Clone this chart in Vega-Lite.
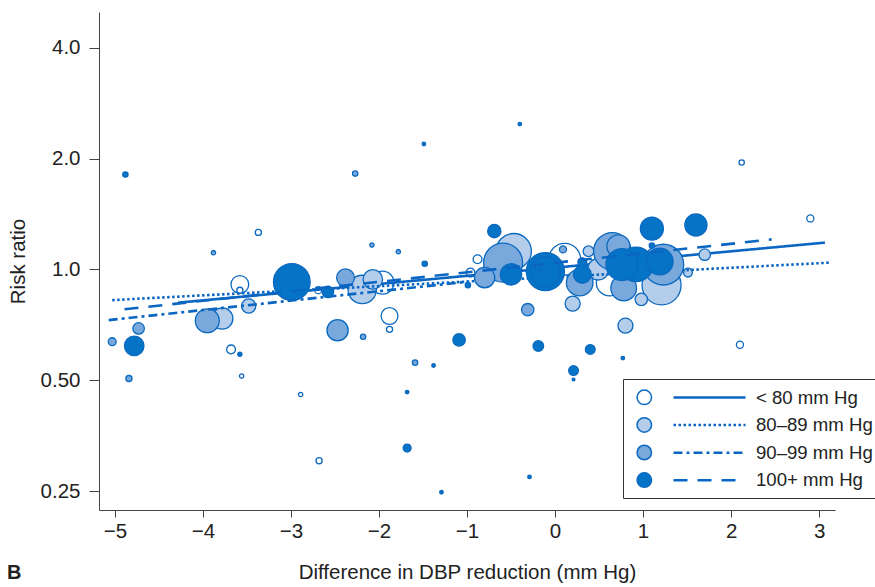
{
  "$schema": "https://vega.github.io/schema/vega-lite/v6.json",
  "width": 736,
  "height": 498,
  "autosize": {"type": "none"},
  "padding": {"left": 99, "top": 12, "right": 40, "bottom": 77},
  "background": "#ffffff",
  "config": {
    "view": {"stroke": null},
    "font": "Liberation Sans",
    "axis": {"grid": false, "domainColor": "#444", "tickColor": "#444", "labelColor": "#222", "titleColor": "#222", "labelFont": "Liberation Sans", "titleFont": "Liberation Sans", "titleFontWeight": "normal", "labelFontSize": 20.5, "titleFontSize": 20.5}
  },
  "title": {"text": "B", "orient": "bottom", "anchor": "start", "frame": "group", "dx": -92, "offset": -20, "fontSize": 20, "fontWeight": "bold", "color": "#222", "font": "Liberation Sans"},
  "datasets": {
    "studies": [
      {"dbp": -3.37, "rr": 1.26, "weight": 12, "group": "< 80 mm Hg"},
      {"dbp": -3.58, "rr": 0.91, "weight": 100, "group": "< 80 mm Hg"},
      {"dbp": -3.58, "rr": 0.877, "weight": 12, "group": "< 80 mm Hg"},
      {"dbp": -3.68, "rr": 0.606, "weight": 25, "group": "< 80 mm Hg"},
      {"dbp": -3.56, "rr": 0.513, "weight": 6, "group": "< 80 mm Hg"},
      {"dbp": -2.89, "rr": 0.457, "weight": 6, "group": "< 80 mm Hg"},
      {"dbp": -2.68, "rr": 0.302, "weight": 12, "group": "< 80 mm Hg"},
      {"dbp": -1.96, "rr": 0.92, "weight": 169, "group": "< 80 mm Hg"},
      {"dbp": -1.88, "rr": 0.747, "weight": 90, "group": "< 80 mm Hg"},
      {"dbp": -1.88, "rr": 0.687, "weight": 12, "group": "< 80 mm Hg"},
      {"dbp": -2.69, "rr": 0.878, "weight": 16, "group": "< 80 mm Hg"},
      {"dbp": -0.96, "rr": 0.98, "weight": 25, "group": "< 80 mm Hg"},
      {"dbp": -0.88, "rr": 1.065, "weight": 25, "group": "< 80 mm Hg"},
      {"dbp": 0.11, "rr": 1.065, "weight": 324, "group": "< 80 mm Hg"},
      {"dbp": 0.62, "rr": 0.92, "weight": 225, "group": "< 80 mm Hg"},
      {"dbp": 2.9, "rr": 1.375, "weight": 16, "group": "< 80 mm Hg"},
      {"dbp": 2.12, "rr": 1.95, "weight": 9, "group": "< 80 mm Hg"},
      {"dbp": 2.1, "rr": 0.624, "weight": 16, "group": "< 80 mm Hg"},
      {"dbp": -3.48, "rr": 0.795, "weight": 64, "group": "80–89 mm Hg"},
      {"dbp": -3.78, "rr": 0.735, "weight": 144, "group": "80–89 mm Hg"},
      {"dbp": -2.07, "rr": 0.939, "weight": 121, "group": "80–89 mm Hg"},
      {"dbp": -2.19, "rr": 0.882, "weight": 256, "group": "80–89 mm Hg"},
      {"dbp": -0.47, "rr": 1.12, "weight": 400, "group": "80–89 mm Hg"},
      {"dbp": 0.2, "rr": 0.807, "weight": 72, "group": "80–89 mm Hg"},
      {"dbp": 0.8, "rr": 0.703, "weight": 72, "group": "80–89 mm Hg"},
      {"dbp": 1.7, "rr": 1.096, "weight": 42, "group": "80–89 mm Hg"},
      {"dbp": 0.38, "rr": 1.12, "weight": 36, "group": "80–89 mm Hg"},
      {"dbp": 0.49, "rr": 1.0, "weight": 144, "group": "80–89 mm Hg"},
      {"dbp": 1.21, "rr": 0.905, "weight": 484, "group": "80–89 mm Hg"},
      {"dbp": 0.98, "rr": 0.829, "weight": 49, "group": "80–89 mm Hg"},
      {"dbp": 1.51, "rr": 0.98, "weight": 25, "group": "80–89 mm Hg"},
      {"dbp": -3.88, "rr": 1.11, "weight": 6, "group": "90–99 mm Hg"},
      {"dbp": -2.27, "rr": 1.82, "weight": 9, "group": "90–99 mm Hg"},
      {"dbp": -2.08, "rr": 1.164, "weight": 6, "group": "90–99 mm Hg"},
      {"dbp": -1.78, "rr": 1.117, "weight": 6, "group": "90–99 mm Hg"},
      {"dbp": -3.95, "rr": 0.725, "weight": 182, "group": "90–99 mm Hg"},
      {"dbp": -4.73, "rr": 0.691, "weight": 42, "group": "90–99 mm Hg"},
      {"dbp": -5.03, "rr": 0.636, "weight": 20, "group": "90–99 mm Hg"},
      {"dbp": -4.84, "rr": 0.505, "weight": 12, "group": "90–99 mm Hg"},
      {"dbp": -2.38, "rr": 0.949, "weight": 100, "group": "90–99 mm Hg"},
      {"dbp": -2.47, "rr": 0.683, "weight": 144, "group": "90–99 mm Hg"},
      {"dbp": -2.18, "rr": 0.656, "weight": 9, "group": "90–99 mm Hg"},
      {"dbp": -1.59, "rr": 0.558, "weight": 9, "group": "90–99 mm Hg"},
      {"dbp": -0.59, "rr": 1.043, "weight": 484, "group": "90–99 mm Hg"},
      {"dbp": -0.8, "rr": 0.95, "weight": 132, "group": "90–99 mm Hg"},
      {"dbp": -0.31, "rr": 0.777, "weight": 49, "group": "90–99 mm Hg"},
      {"dbp": 0.28, "rr": 0.92, "weight": 225, "group": "90–99 mm Hg"},
      {"dbp": 0.09, "rr": 1.133, "weight": 16, "group": "90–99 mm Hg"},
      {"dbp": 0.65, "rr": 1.12, "weight": 441, "group": "90–99 mm Hg"},
      {"dbp": 0.72, "rr": 1.155, "weight": 169, "group": "90–99 mm Hg"},
      {"dbp": 0.78, "rr": 0.89, "weight": 210, "group": "90–99 mm Hg"},
      {"dbp": 1.23, "rr": 1.03, "weight": 529, "group": "90–99 mm Hg"},
      {"dbp": -4.88, "rr": 1.81, "weight": 9, "group": "100+ mm Hg"},
      {"dbp": -1.48, "rr": 1.036, "weight": 9, "group": "100+ mm Hg"},
      {"dbp": -1.49, "rr": 2.19, "weight": 4, "group": "100+ mm Hg"},
      {"dbp": -0.4, "rr": 2.48, "weight": 4, "group": "100+ mm Hg"},
      {"dbp": -2.99, "rr": 0.924, "weight": 428, "group": "100+ mm Hg"},
      {"dbp": -4.78, "rr": 0.62, "weight": 121, "group": "100+ mm Hg"},
      {"dbp": -3.58, "rr": 0.588, "weight": 6, "group": "100+ mm Hg"},
      {"dbp": -2.58, "rr": 0.868, "weight": 42, "group": "100+ mm Hg"},
      {"dbp": -1.09, "rr": 0.643, "weight": 49, "group": "100+ mm Hg"},
      {"dbp": -1.38, "rr": 0.548, "weight": 4, "group": "100+ mm Hg"},
      {"dbp": -1.68, "rr": 0.464, "weight": 4, "group": "100+ mm Hg"},
      {"dbp": -1.68, "rr": 0.327, "weight": 20, "group": "100+ mm Hg"},
      {"dbp": -0.29, "rr": 0.273, "weight": 4, "group": "100+ mm Hg"},
      {"dbp": -1.29, "rr": 0.248, "weight": 4, "group": "100+ mm Hg"},
      {"dbp": -0.99, "rr": 0.906, "weight": 9, "group": "100+ mm Hg"},
      {"dbp": -0.69, "rr": 1.27, "weight": 56, "group": "100+ mm Hg"},
      {"dbp": 1.1, "rr": 1.29, "weight": 169, "group": "100+ mm Hg"},
      {"dbp": 1.6, "rr": 1.32, "weight": 156, "group": "100+ mm Hg"},
      {"dbp": -0.19, "rr": 0.619, "weight": 36, "group": "100+ mm Hg"},
      {"dbp": 0.4, "rr": 0.606, "weight": 30, "group": "100+ mm Hg"},
      {"dbp": 0.21, "rr": 0.531, "weight": 30, "group": "100+ mm Hg"},
      {"dbp": 0.77, "rr": 0.574, "weight": 4, "group": "100+ mm Hg"},
      {"dbp": 0.21, "rr": 0.502, "weight": 2.5, "group": "100+ mm Hg"},
      {"dbp": -0.5, "rr": 0.969, "weight": 144, "group": "100+ mm Hg"},
      {"dbp": -0.11, "rr": 0.986, "weight": 462, "group": "100+ mm Hg"},
      {"dbp": -0.11, "rr": 0.986, "weight": 289, "group": "100+ mm Hg"},
      {"dbp": -0.19, "rr": 1.01, "weight": 12, "group": "100+ mm Hg"},
      {"dbp": 0.31, "rr": 0.969, "weight": 100, "group": "100+ mm Hg"},
      {"dbp": 0.31, "rr": 1.045, "weight": 25, "group": "100+ mm Hg"},
      {"dbp": 0.76, "rr": 1.03, "weight": 324, "group": "100+ mm Hg"},
      {"dbp": 0.92, "rr": 1.032, "weight": 380, "group": "100+ mm Hg"},
      {"dbp": 1.19, "rr": 1.05, "weight": 225, "group": "100+ mm Hg"},
      {"dbp": 1.1, "rr": 1.16, "weight": 9, "group": "100+ mm Hg"}
    ],
    "fits": [
      {"dbp": -4.28, "rr": 0.812, "level": "< 80 mm Hg"},
      {"dbp": 3.065, "rr": 1.182, "level": "< 80 mm Hg"},
      {"dbp": -5.03, "rr": 0.825, "level": "80–89 mm Hg"},
      {"dbp": 3.12, "rr": 1.043, "level": "80–89 mm Hg"},
      {"dbp": -5.07, "rr": 0.728, "level": "90–99 mm Hg"},
      {"dbp": -0.98, "rr": 0.926, "level": "90–99 mm Hg"},
      {"dbp": -4.89, "rr": 0.779, "level": "100+ mm Hg"},
      {"dbp": 2.46, "rr": 1.206, "level": "100+ mm Hg"}
    ]
  },
  "encoding": {
    "x": {"field": "dbp", "type": "quantitative", "scale": {"domain": [-5.18, 3.18], "nice": false, "zero": false}, "axis": {"values": [-5, -4, -3, -2, -1, 0, 1, 2, 3], "format": "d", "tickSize": 7, "labelPadding": 4, "title": "Difference in DBP reduction (mm Hg)", "titlePadding": 21}},
    "y": {"field": "rr", "type": "quantitative", "scale": {"type": "log", "domain": [0.222, 5.0], "nice": false, "zero": false}, "axis": {"values": [0.25, 0.5, 1, 2, 4], "labelExpr": "datum.value == 0.25 ? '0.25' : datum.value == 0.5 ? '0.50' : format(datum.value, '.1f')", "tickSize": 10, "labelPadding": 9, "title": "Risk ratio", "titlePadding": 12}}
  },
  "layer": [
    {
      "data": {"values": [{}]},
      "mark": {"type": "rule", "color": "#222", "strokeWidth": 2.4, "strokeDash": [2.4, 2.3]},
      "encoding": {"y": {"datum": 1, "type": "quantitative"}, "x": null}
    },
    {
      "data": {"values": [{}]},
      "mark": {"type": "rule", "color": "#777", "strokeWidth": 1.5, "strokeDash": [2, 2]},
      "encoding": {"x": {"datum": 0, "type": "quantitative"}, "y": {"datum": 4.62, "type": "quantitative"}, "y2": {"datum": 0.222}}
    },
    {
      "data": {"name": "studies"},
      "transform": [{"filter": {"field": "group", "equal": "< 80 mm Hg"}}],
      "mark": {"type": "point", "shape": "circle", "filled": true, "opacity": 1, "stroke": "#0b69bf", "strokeWidth": 1.3},
      "encoding": {
        "size": {"field": "weight", "type": "quantitative", "scale": {"type": "linear", "domain": [0, 500], "range": [0, 1571]}, "legend": null},
        "fill": {"field": "group", "type": "nominal", "scale": {"domain": ["< 80 mm Hg", "80–89 mm Hg", "90–99 mm Hg", "100+ mm Hg"], "range": ["#ffffff", "#b4cdeb", "#78a8dc", "#0574c6"]}, "legend": {"orient": "none", "legendX": 536, "legendY": 376, "title": null, "labelExpr": "''", "symbolType": "circle", "symbolSize": 210, "symbolStrokeColor": "#0b69bf", "symbolStrokeWidth": 1.5, "symbolOpacity": 1, "rowPadding": 6.6, "padding": 0, "labelFontSize": 18.6}},
        "order": {"field": "weight", "type": "quantitative", "sort": "descending"}
      }
    },
    {
      "data": {"name": "fits"},
      "transform": [{"filter": {"field": "level", "equal": "< 80 mm Hg"}}],
      "mark": {"type": "line", "color": "#0a66c2", "strokeWidth": 2.6, "strokeCap": "butt"},
      "encoding": {
        "strokeDash": {"field": "level", "type": "nominal", "sort": ["< 80 mm Hg", "80–89 mm Hg", "90–99 mm Hg", "100+ mm Hg"], "scale": {"range": [[1, 0], [2.5, 2.5], [9, 4, 3, 4], [14, 10]]}, "legend": {"orient": "none", "legendX": 524, "legendY": 367, "title": null, "strokeColor": "#333", "padding": 8, "symbolOffset": 68, "symbolType": "M-4,0H4", "symbolSize": 324, "symbolStrokeWidth": 2.5, "symbolStrokeColor": "#0a66c2", "symbolFillColor": "transparent", "labelOffset": 36, "labelFontSize": 18.6, "labelFont": "Liberation Sans", "labelColor": "#222", "rowPadding": 6.6}}
      }
    },
    {
      "data": {"name": "studies"},
      "transform": [{"filter": {"field": "group", "equal": "80–89 mm Hg"}}],
      "mark": {"type": "point", "shape": "circle", "filled": true, "opacity": 1, "stroke": "#0b69bf", "strokeWidth": 1.3},
      "encoding": {
        "size": {"field": "weight", "type": "quantitative", "scale": {"type": "linear", "domain": [0, 500], "range": [0, 1571]}, "legend": null},
        "fill": {"field": "group", "type": "nominal", "scale": {"domain": ["< 80 mm Hg", "80–89 mm Hg", "90–99 mm Hg", "100+ mm Hg"], "range": ["#ffffff", "#b4cdeb", "#78a8dc", "#0574c6"]}, "legend": {"orient": "none", "legendX": 536, "legendY": 376, "title": null, "labelExpr": "''", "symbolType": "circle", "symbolSize": 210, "symbolStrokeColor": "#0b69bf", "symbolStrokeWidth": 1.5, "symbolOpacity": 1, "rowPadding": 6.6, "padding": 0, "labelFontSize": 18.6}},
        "order": {"field": "weight", "type": "quantitative", "sort": "descending"}
      }
    },
    {
      "data": {"name": "fits"},
      "transform": [{"filter": {"field": "level", "equal": "80–89 mm Hg"}}],
      "mark": {"type": "line", "color": "#0a66c2", "strokeWidth": 2.6, "strokeCap": "butt"},
      "encoding": {
        "strokeDash": {"field": "level", "type": "nominal", "sort": ["< 80 mm Hg", "80–89 mm Hg", "90–99 mm Hg", "100+ mm Hg"], "scale": {"range": [[1, 0], [2.5, 2.5], [9, 4, 3, 4], [14, 10]]}, "legend": {"orient": "none", "legendX": 524, "legendY": 367, "title": null, "strokeColor": "#333", "padding": 8, "symbolOffset": 68, "symbolType": "M-4,0H4", "symbolSize": 324, "symbolStrokeWidth": 2.5, "symbolStrokeColor": "#0a66c2", "symbolFillColor": "transparent", "labelOffset": 36, "labelFontSize": 18.6, "labelFont": "Liberation Sans", "labelColor": "#222", "rowPadding": 6.6}}
      }
    },
    {
      "data": {"name": "studies"},
      "transform": [{"filter": {"field": "group", "equal": "90–99 mm Hg"}}],
      "mark": {"type": "point", "shape": "circle", "filled": true, "opacity": 1, "stroke": "#0b69bf", "strokeWidth": 1.3},
      "encoding": {
        "size": {"field": "weight", "type": "quantitative", "scale": {"type": "linear", "domain": [0, 500], "range": [0, 1571]}, "legend": null},
        "fill": {"field": "group", "type": "nominal", "scale": {"domain": ["< 80 mm Hg", "80–89 mm Hg", "90–99 mm Hg", "100+ mm Hg"], "range": ["#ffffff", "#b4cdeb", "#78a8dc", "#0574c6"]}, "legend": {"orient": "none", "legendX": 536, "legendY": 376, "title": null, "labelExpr": "''", "symbolType": "circle", "symbolSize": 210, "symbolStrokeColor": "#0b69bf", "symbolStrokeWidth": 1.5, "symbolOpacity": 1, "rowPadding": 6.6, "padding": 0, "labelFontSize": 18.6}},
        "order": {"field": "weight", "type": "quantitative", "sort": "descending"}
      }
    },
    {
      "data": {"name": "fits"},
      "transform": [{"filter": {"field": "level", "equal": "90–99 mm Hg"}}],
      "mark": {"type": "line", "color": "#0a66c2", "strokeWidth": 2.6, "strokeCap": "butt"},
      "encoding": {
        "strokeDash": {"field": "level", "type": "nominal", "sort": ["< 80 mm Hg", "80–89 mm Hg", "90–99 mm Hg", "100+ mm Hg"], "scale": {"range": [[1, 0], [2.5, 2.5], [9, 4, 3, 4], [14, 10]]}, "legend": {"orient": "none", "legendX": 524, "legendY": 367, "title": null, "strokeColor": "#333", "padding": 8, "symbolOffset": 68, "symbolType": "M-4,0H4", "symbolSize": 324, "symbolStrokeWidth": 2.5, "symbolStrokeColor": "#0a66c2", "symbolFillColor": "transparent", "labelOffset": 36, "labelFontSize": 18.6, "labelFont": "Liberation Sans", "labelColor": "#222", "rowPadding": 6.6}}
      }
    },
    {
      "data": {"name": "studies"},
      "transform": [{"filter": {"field": "group", "equal": "100+ mm Hg"}}],
      "mark": {"type": "point", "shape": "circle", "filled": true, "opacity": 1, "stroke": "#0b69bf", "strokeWidth": 1.3},
      "encoding": {
        "size": {"field": "weight", "type": "quantitative", "scale": {"type": "linear", "domain": [0, 500], "range": [0, 1571]}, "legend": null},
        "fill": {"field": "group", "type": "nominal", "scale": {"domain": ["< 80 mm Hg", "80–89 mm Hg", "90–99 mm Hg", "100+ mm Hg"], "range": ["#ffffff", "#b4cdeb", "#78a8dc", "#0574c6"]}, "legend": {"orient": "none", "legendX": 536, "legendY": 376, "title": null, "labelExpr": "''", "symbolType": "circle", "symbolSize": 210, "symbolStrokeColor": "#0b69bf", "symbolStrokeWidth": 1.5, "symbolOpacity": 1, "rowPadding": 6.6, "padding": 0, "labelFontSize": 18.6}},
        "order": {"field": "weight", "type": "quantitative", "sort": "descending"}
      }
    },
    {
      "data": {"name": "fits"},
      "transform": [{"filter": {"field": "level", "equal": "100+ mm Hg"}}],
      "mark": {"type": "line", "color": "#0a66c2", "strokeWidth": 2.6, "strokeCap": "butt"},
      "encoding": {
        "strokeDash": {"field": "level", "type": "nominal", "sort": ["< 80 mm Hg", "80–89 mm Hg", "90–99 mm Hg", "100+ mm Hg"], "scale": {"range": [[1, 0], [2.5, 2.5], [9, 4, 3, 4], [14, 10]]}, "legend": {"orient": "none", "legendX": 524, "legendY": 367, "title": null, "strokeColor": "#333", "padding": 8, "symbolOffset": 68, "symbolType": "M-4,0H4", "symbolSize": 324, "symbolStrokeWidth": 2.5, "symbolStrokeColor": "#0a66c2", "symbolFillColor": "transparent", "labelOffset": 36, "labelFontSize": 18.6, "labelFont": "Liberation Sans", "labelColor": "#222", "rowPadding": 6.6}}
      }
    }
  ]
}
